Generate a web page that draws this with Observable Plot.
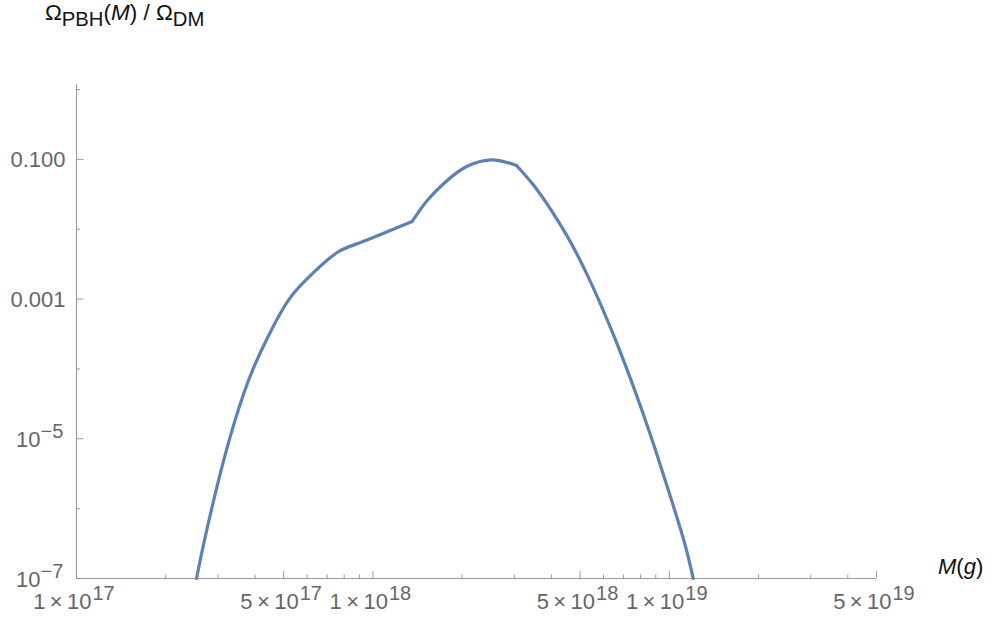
<!DOCTYPE html>
<html>
<head>
<meta charset="utf-8">
<script src="https://cdn.jsdelivr.net/npm/d3@7"></script>
<script src="https://cdn.jsdelivr.net/npm/@observablehq/plot@0.6"></script>
<style>
  html, body { margin: 0; padding: 0; background: #fff; }
  #wrap { position: relative; width: 990px; height: 619px; font-family: "Liberation Sans", Arial, sans-serif; }
  #title { position: absolute; left: 45px; top: 2px; font-size: 22.5px; line-height: 22px; color: #111; white-space: nowrap; }
  #title .sb { position: relative; top: 6px; font-size: 0.9em; }
  #xlab { position: absolute; left: 938px; top: 556px; font-size: 22px; line-height: 22px; color: #111; white-space: nowrap; }
  svg { display: block; }
</style>
</head>
<body>
<div id="wrap">
  <div id="chart"></div>
  <div id="title">Ω<span class="sb">PBH</span>(<i>M</i>) / Ω<span class="sb">DM</span></div>
  <div id="xlab"><i>M</i>(<i>g</i>)</div>
</div>
<script>
// ---- data (M in grams, Ω_PBH/Ω_DM) ----
const mass = [2.541e17, 2.689e17, 2.906e17, 3.142e17, 3.396e17, 3.669e17, 3.966e17, 4.41e17, 4.89e17, 5.43e17,
  6.34e17, 7.60e17, 9.08e17, 1.117e18, 1.357e18,
  1.525e18, 1.781e18, 2.080e18, 2.526e18, 3.051e18,
  3.491e18, 3.974e18, 4.523e18, 5.148e18, 5.861e18, 6.671e18, 7.593e18, 8.643e18, 9.836e18,
  1.1222e19, 1.2035e19];
const omega = [1e-7, 3.20e-7, 1.342e-6, 5.02e-6, 1.620e-5, 4.50e-5, 1.060e-4, 2.79e-4, 6.43e-4, 1.243e-3,
  2.452e-3, 4.68e-3, 6.45e-3, 9.18e-3, 1.291e-2,
  0.0258, 0.0499, 0.0796, 0.0986, 0.0818,
  0.0423, 0.0194, 7.96e-3, 2.80e-3, 8.46e-4, 2.263e-4, 5.365e-5, 1.127e-5, 2.076e-6,
  3.386e-7, 1e-7];
const kinks = [1.357e18, 3.051e18];

const xMajorTicks = [5e17, 1e18, 5e18, 1e19, 5e19];
const xMinorTicks = [2e17, 3e17, 4e17, 6e17, 7e17, 8e17, 9e17, 2e18, 3e18, 4e18, 6e18, 7e18, 8e18, 9e18, 2e19, 3e19, 4e19];
const xLabelTicks = [1e17, 5e17, 1e18, 5e18, 1e19, 5e19];
const xLabelMantissa = ["1", "5", "1", "5", "1", "5"];
const xLabelExponent = ["17", "17", "18", "18", "19", "19"];

const yMajorTicks = [1e-7, 1e-5, 1e-3, 0.1];
const yMinorTicks = [1e-6, 1e-4, 1e-2, 1];
const yLabels = ["10^−7", "10^−5", "0.001", "0.100"];

// ---- build tables ----
const curve = mass.map((m, i) => ({m, v: omega[i]}));
const xLab = xLabelTicks.map((t, i) => ({t, base: xLabelMantissa[i] + "\u2009×\u200910", exp: xLabelExponent[i]}));
const yLab = yMajorTicks.map((t, i) => {
  const [base, exp] = yLabels[i].split("^");
  return {t, base, exp: exp || ""};
});

const W = 990, H = 619, ML = 76, MR = 114, MT = 84, MB = 41;
const frameW = W - ML - MR, frameH = H - MT - MB;
const axisColor = "#9a9a9a", labelColor = "#666";
const lineColor = "#5E81B5";

const lineOpts = {x: "m", y: "v", stroke: lineColor, strokeWidth: 3.2, curve: "natural", strokeLinejoin: "round"};

const plot = Plot.plot({
  width: W, height: H,
  marginLeft: ML, marginRight: MR, marginTop: MT, marginBottom: MB,
  style: {fontFamily: "'Liberation Sans', Arial, sans-serif", background: "#fff"},
  x: {type: "log", domain: [1e17, 5e19], axis: null},
  y: {type: "log", domain: [1e-7, 1.18], axis: null},
  marks: [
    Plot.ruleY([1e-7], {stroke: axisColor, strokeWidth: 1.2}),
    Plot.ruleX([1e17], {stroke: axisColor, strokeWidth: 1.2}),
    Plot.tickX(xMajorTicks, {x: d => d, insetTop: frameH - 7, stroke: axisColor}),
    Plot.tickX(xMinorTicks, {x: d => d, insetTop: frameH - 3.5, stroke: axisColor}),
    Plot.tickY(yMajorTicks, {y: d => d, insetRight: frameW - 7.5, stroke: axisColor}),
    Plot.tickY(yMinorTicks, {y: d => d, insetRight: frameW - 4, stroke: axisColor}),
    // x tick labels
    Plot.text(xLab, {x: "t", y: 1e-7, text: "base", textAnchor: "end", dx: 15, dy: 23, fontSize: 22, fill: labelColor}),
    Plot.text(xLab, {x: "t", y: 1e-7, text: "exp", textAnchor: "start", dx: 16, dy: 15, fontSize: 20, fill: labelColor}),
    // y tick labels
    Plot.text(yLab.filter(d => d.exp), {x: 1e17, y: "t", text: "base", textAnchor: "end", dx: -36, dy: 1, fontSize: 22, fill: labelColor}),
    Plot.text(yLab.filter(d => d.exp), {x: 1e17, y: "t", text: "exp", textAnchor: "start", dx: -36, dy: -7, fontSize: 20, fill: labelColor}),
    Plot.text(yLab.filter(d => !d.exp), {x: 1e17, y: "t", text: "base", textAnchor: "end", dx: -11, dy: 1, fontSize: 22, fill: labelColor}),
    // curve, in three smooth pieces joined at the kinks
    Plot.line(curve, {...lineOpts, filter: d => d.m <= kinks[0]}),
    Plot.line(curve, {...lineOpts, filter: d => d.m >= kinks[0] && d.m <= kinks[1]}),
    Plot.line(curve, {...lineOpts, filter: d => d.m >= kinks[1]})
  ]
});
document.getElementById("chart").appendChild(plot);
</script>
</body>
</html>
